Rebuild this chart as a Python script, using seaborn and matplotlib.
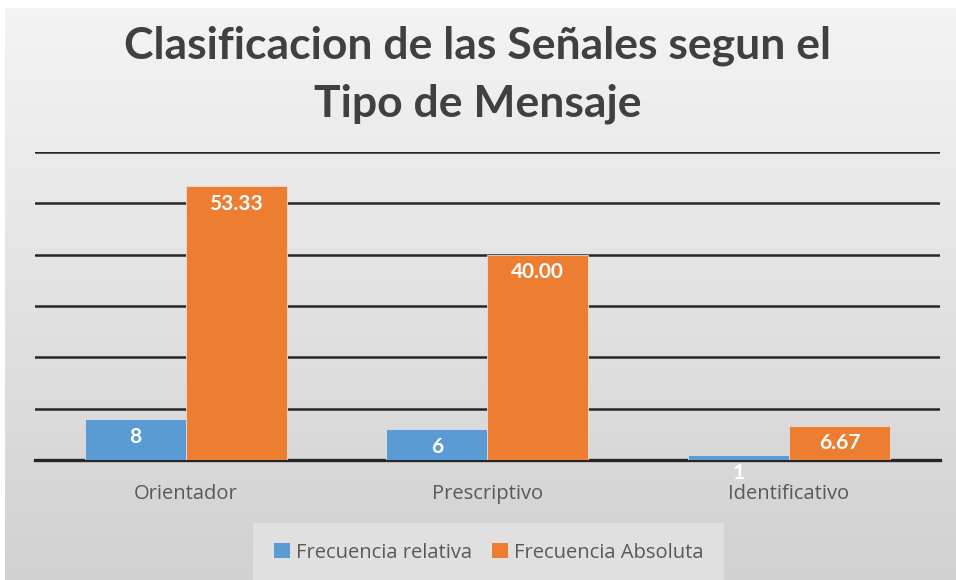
import numpy as np
import pandas as pd
import matplotlib
matplotlib.use("Agg")
import matplotlib.pyplot as plt
import matplotlib.patches as mpatches
import seaborn as sns

# data
categories = ["Orientador", "Prescriptivo", "Identificativo"]
frec_relativa = [8, 6, 1]
frec_absoluta = [53.33, 40.00, 6.67]
series_names = ["Frecuencia relativa", "Frecuencia Absoluta"]
y_ticks = [0, 10, 20, 30, 40, 50, 60]

colors = ["#5B9BD5", "#ED7D31"]

df = pd.DataFrame({
    "categoria": categories * 2,
    "serie": [series_names[0]] * 3 + [series_names[1]] * 3,
    "valor": frec_relativa + frec_absoluta,
})

sns.set_theme(style="white")
plt.rcParams["font.family"] = ["Lato", "DejaVu Sans"]

fig = plt.figure(figsize=(9.56, 5.8), dpi=100)
fig.patch.set_facecolor("white")

# gray gradient background
bg = fig.add_axes([0.005, 0.0, 0.995, 0.986], zorder=-10)
grad = np.linspace(0.955, 0.82, 256).reshape(-1, 1)
bg.imshow(np.dstack([grad, grad, grad]), aspect="auto", extent=[0, 1, 0, 1])
bg.set_axis_off()

ax = fig.add_axes([0.0366, 0.207, 0.9464, 0.531])
ax.set_facecolor("none")

sns.barplot(data=df, x="categoria", y="valor", hue="serie",
            palette=colors, saturation=1, width=0.67, gap=0, ax=ax,
            edgecolor="#e0e0e0", linewidth=0.6, zorder=3)

ax.set_xlim(-0.5, 2.5)
ax.set_ylim(0, 60)
ax.set_yticks(y_ticks)
ax.yaxis.grid(True, color="#262626", linewidth=1.8, zorder=1)
ax.set_axisbelow(True)
ax.tick_params(axis="y", left=False, labelleft=False)
ax.tick_params(axis="x", bottom=False, labelsize=14.5, labelcolor="#595959", pad=11)
for lbl in ax.get_xticklabels():
    lbl.set_family(["Open Sans", "DejaVu Sans"])
ax.set_xlabel("")
ax.set_ylabel("")
for side in ["top", "right", "left"]:
    ax.spines[side].set_visible(False)
ax.spines["bottom"].set_color("#262626")
ax.spines["bottom"].set_linewidth(2.4)

# data labels inside the top of each bar
ax.bar_label(ax.containers[0], labels=[f"{v:d}" for v in frec_relativa],
             padding=-20, color="white", fontsize=15, fontweight="bold")
ax.bar_label(ax.containers[1], labels=[f"{v:.2f}" for v in frec_absoluta],
             padding=-20, color="white", fontsize=15, fontweight="bold")

ax.get_legend().remove()
handles = [mpatches.Patch(facecolor=c, edgecolor="none") for c in colors]
leg = fig.legend(handles, series_names, loc="center", bbox_to_anchor=(0.511, 0.047),
                 ncol=2, frameon=True, handlelength=0.8,
                 handleheight=0.8, handletextpad=0.3, columnspacing=1.0,
                 borderpad=0.7, prop={"family": ["Open Sans", "DejaVu Sans"], "size": 14.5})
leg.get_frame().set_facecolor("#e4e4e4")
leg.get_frame().set_edgecolor("none")
leg.get_frame().set_boxstyle("square")
for t in leg.get_texts():
    t.set_color("#595959")

title_lines = ["Clasificacion de las Señales segun el", "Tipo de Mensaje"]
fig.text(0.5, 0.900, title_lines[0], ha="center", va="baseline",
         fontsize=32, fontweight="bold", color="#404040")
fig.text(0.5, 0.800, title_lines[1], ha="center", va="baseline",
         fontsize=32, fontweight="bold", color="#404040")

fig.savefig("out.png", dpi=100)
